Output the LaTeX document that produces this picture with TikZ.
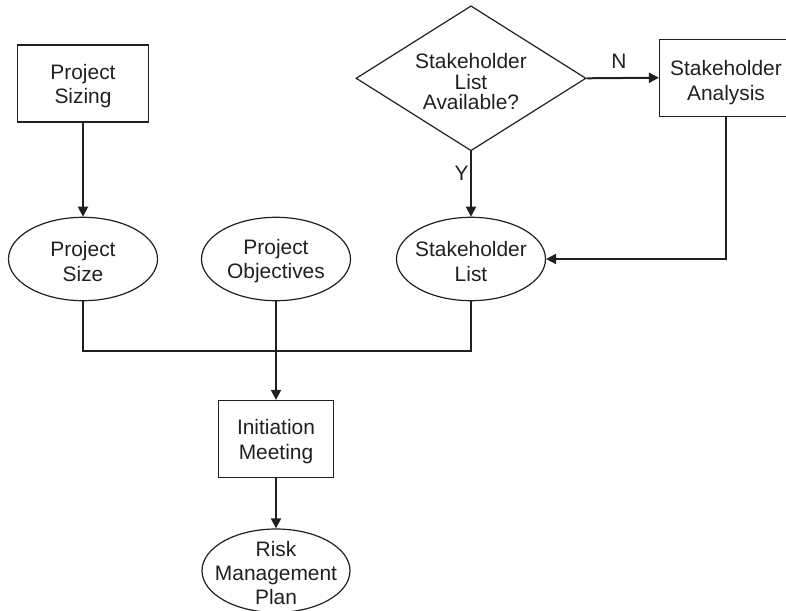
\documentclass[tikz,border=0pt]{standalone}
\usepackage{fontspec}
\setmainfont{Liberation Sans}
\usetikzlibrary{shapes.geometric,arrows.meta}
\definecolor{ink}{HTML}{231F20}
\begin{document}
\begin{tikzpicture}[x=1bp,y=-1bp,
  every node/.style={text=ink,font=\fontsize{21}{24.5}\selectfont,align=center},
  % extra room above the text block sets the lines a little below centre
  lowtext/.style={text height=#1},
  boxnode/.style={draw=ink,line width=1.2bp,rectangle,inner sep=0pt,
    minimum width=#1,minimum height=77bp},
  oval/.style={draw=ink,line width=1.2bp,ellipse,inner xsep=-9pt,inner ysep=-8pt,
    minimum width=149bp,minimum height=83.4bp,lowtext=44.4pt},
  decision/.style={draw=ink,line width=1.2bp,diamond,shape aspect=1.59,inner sep=0pt,
    minimum width=230bp,minimum height=145bp,lowtext=63pt,
    font=\fontsize{21}{20.5}\selectfont},
  flow/.style={draw=ink,line width=2bp,-{Triangle[length=10bp,width=10bp]}},
  link/.style={draw=ink,line width=2bp},
  tag/.style={font=\fontsize{21}{24}\selectfont}]
\useasboundingbox (0,0) rectangle (786,611);

% process boxes
\node[boxnode=130.5bp,lowtext=44.4pt] (sizing) at (83,83.5) {Project\\Sizing};
\node[boxnode=133bp,lowtext=49.5pt] (analysis) at (726,77.7) {Stakeholder\\Analysis};
\node[boxnode=115.6bp,lowtext=44.9pt] (meeting) at (276,439) {Initiation\\Meeting};

% decision
\node[decision] (avail) at (471,78.3) {Stakeholder\\List\\Available?};

% data ovals
\node[oval] (size) at (83,259) {Project\\Size};
\node[oval] (objectives) at (276,259) {Project\\Objectives};
\node[oval] (list) at (471,259) {Stakeholder\\List};
\node[oval,minimum width=148bp,lowtext=69pt] (risk) at (276,570.7) {Risk\\Management\\Plan};

% connectors
\draw[flow] (sizing.south) -- (size.north);
\draw[flow] (avail.east) -- (analysis.west);
\draw[flow] (avail.south) -- (list.north);
\draw[flow] (analysis.south) |- (list.east);

\coordinate (bus) at (276,351);
\draw[link] (size.south) |- (bus) -| (list.south);
\draw[flow] (objectives.south) -- (meeting.north);
\draw[flow] (meeting.south) -- (risk.north);

% branch labels
\node[tag] (no) at (619,61) {N};
\node[tag] (yes) at (461.7,173.3) {Y};
\end{tikzpicture}
\end{document}
